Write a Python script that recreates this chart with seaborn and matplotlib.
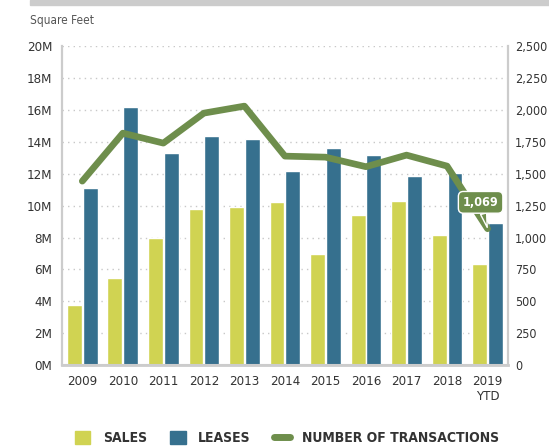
import pandas as pd
import numpy as np
import seaborn as sns
import matplotlib.pyplot as plt
from matplotlib.patches import Patch, Rectangle
from matplotlib.lines import Line2D
import matplotlib.ticker as mticker

years = ["2009", "2010", "2011", "2012", "2013", "2014", "2015", "2016", "2017", "2018", "2019\nYTD"]
sales = [3.76, 5.45, 7.96, 9.8, 9.9, 10.2, 6.96, 9.4, 10.3, 8.15, 6.33]
leases = [11.1, 16.2, 13.3, 14.35, 14.2, 12.2, 13.6, 13.2, 11.85, 12.05, 8.9]
transactions = [1442, 1818, 1740, 1975, 2030, 1638, 1630, 1555, 1646, 1560, 1069]

sales_col = "#D0D352"
leases_col = "#36708E"
line_col = "#6E8E4C"
text_col = "#333333"
grid_col = "#c8c8c8"

sns.set_theme(style="white")
plt.rcParams["font.family"] = ["DejaVu Sans"]
plt.rcParams["font.stretch"] = "condensed"

df = pd.DataFrame({"year": years * 2,
                   "value": sales + leases,
                   "type": ["SALES"] * len(years) + ["LEASES"] * len(years)})

fig = plt.figure(figsize=(5.49, 4.48), dpi=100)
ax = fig.add_axes([0.113, 0.185, 0.812, 0.712])

sns.barplot(df, x="year", y="value", hue="type", palette=[sales_col, leases_col],
            width=0.78, gap=0.06, saturation=1, legend=False, ax=ax)
ax.set_xlim(-0.5, 10.5)
ax.set_ylim(0, 20)
ax.set_yticks(np.arange(0, 21, 2))
ax.yaxis.set_major_formatter(mticker.FuncFormatter(lambda v, p: f"{v:.0f}M"))
ax.set_xlabel("")
ax.set_ylabel("")
ax.grid(axis="y", linestyle=(0, (1, 3)), color=grid_col, linewidth=1)
ax.set_axisbelow(True)
ax.tick_params(axis="both", length=0, labelsize=9.5, colors=text_col, pad=7)

ax2 = ax.twinx()
sns.lineplot(x=np.arange(len(years)), y=transactions, color=line_col, linewidth=4.8,
             ax=ax2)
ax2.lines[0].set_solid_capstyle("round")
ax2.set_ylim(0, 2500)
ax2.set_yticks(np.arange(0, 2501, 250))
ax2.yaxis.set_major_formatter(mticker.FuncFormatter(lambda v, p: f"{v:,.0f}"))
ax2.tick_params(axis="y", length=0, labelsize=9, colors=text_col, pad=5)

for a in (ax, ax2):
    a.spines["top"].set_visible(False)
    for s in ("left", "right", "bottom"):
        a.spines[s].set_color("#cccccc")
        a.spines[s].set_linewidth(1.5)
ax.spines["bottom"].set_linewidth(2)

ax2.annotate(f"{transactions[-1]:,}", xy=(len(years) - 1, transactions[-1]),
             xytext=(-5, 19), textcoords="offset points", ha="center", va="center",
             color="white", fontsize=9, fontweight="bold",
             bbox=dict(boxstyle="round,pad=0.35,rounding_size=0.4", fc=line_col,
                       ec="white", lw=1),
             arrowprops=dict(arrowstyle="wedge,tail_width=0.5", fc=line_col, ec="white",
                             lw=1, shrinkA=0, shrinkB=1))

fig.text(0.055, 0.955, "Square Feet", fontsize=8.5, color="#555555", ha="left", va="center")
fig.patches.append(Rectangle((0.055, 0.989), 0.95, 0.011, transform=fig.transFigure,
                             color="#cccccc", zorder=0))

handles = [Patch(color=sales_col), Patch(color=leases_col),
           Line2D([], [], color=line_col, linewidth=5, solid_capstyle="round")]
fig.legend(handles, ["SALES", "LEASES", "NUMBER OF TRANSACTIONS"], loc="center",
           bbox_to_anchor=(0.523, 0.022), ncol=3, frameon=False, handlelength=1.1,
           handleheight=1.1, columnspacing=1.7, handletextpad=0.9,
           prop=dict(weight="bold", size=10, stretch="condensed"))
for t in fig.legends[0].get_texts():
    t.set_color(text_col)

fig.savefig("out.png", dpi=100)
